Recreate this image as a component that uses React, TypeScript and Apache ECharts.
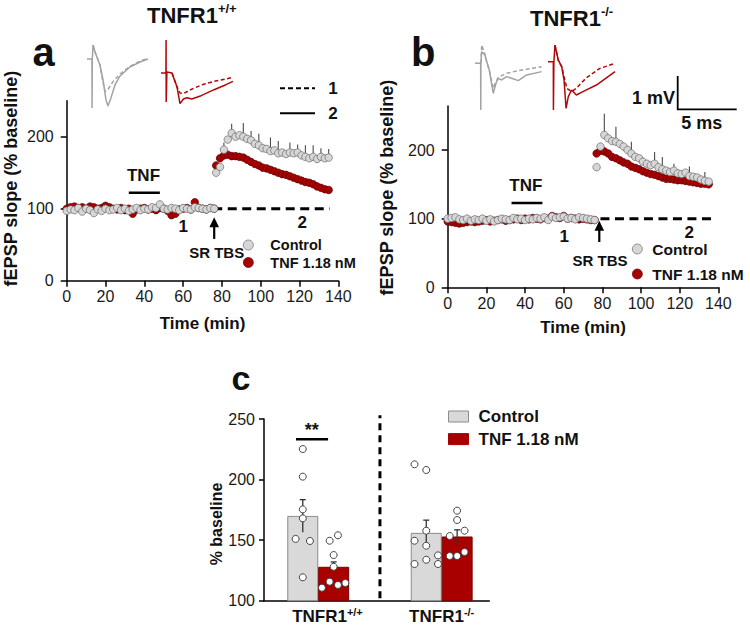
import React, { useEffect, useRef } from 'react';
import * as echarts from 'echarts';

const FONT = "'Liberation Sans', Arial, Helvetica, sans-serif";
const GRAY_FILL = '#d6d6d6';
const GRAY_EDGE = '#6a6a6a';
const RED_FILL = '#a80000';
const RED_EDGE = '#5a0000';
const TRACE_GRAY = '#a3a3a3';
const TRACE_RED = '#b00808';

// ---- time course (panels a, b) ----
const baseTimes = [0, 2, 4, 6, 8, 10, 12, 14, 16, 18, 20, 22, 24, 26, 28, 30, 32, 34, 36, 38, 40, 42, 44, 46, 48, 50, 52, 54, 56, 58, 60, 62, 64, 66, 68, 70, 72, 74, 76];
const postTimes = [77, 79, 81, 83, 85, 87, 89, 91, 93, 95, 97, 99, 101, 103, 105, 107, 109, 111, 113, 115, 117, 119, 121, 123, 125, 127, 129, 131, 133, 135];

const ctrlA_base = [97, 99, 98, 101, 96, 100, 98, 94, 99, 97, 100, 98, 99, 101, 98, 100, 97, 99, 101, 98, 100, 99, 102, 101, 106, 100, 99, 101, 100, 98, 101, 100, 99, 102, 101, 100, 99, 101, 100];
const tnfA_base = [100, 102, 103, 101, 102, 100, 103, 102, 100, 101, 104, 102, 100, 99, 101, 98, 100, 93, 99, 100, 101, 99, 100, 98, 101, 100, 97, 91, 93, 99, 100, 101, 99, 109, 101, 100, 99, 101, 100];
const ctrlA_post = [150, 158, 182, 196, 205, 200, 202, 200, 197, 195, 190, 188, 184, 183, 180, 181, 177, 178, 176, 178, 177, 178, 174, 172, 170, 172, 169, 172, 170, 171];
const tnfA_post = [160, 170, 174, 175, 173, 173, 172, 171, 168, 165, 162, 160, 157, 156, 154, 152, 150, 148, 147, 145, 143, 141, 139, 137, 136, 134, 131, 129, 127, 126];
const ctrlA_err = [0, 0, 10, 0, 13, 0, 0, 19, 0, 13, 0, 16, 0, 0, 19, 0, 17, 0, 0, 14, 0, 11, 0, 16, 0, 16, 0, 12, 0, 12];

const ctrlB_base = [100, 101, 102, 99, 98, 100, 97, 99, 98, 100, 97, 99, 96, 98, 100, 99, 98, 101, 99, 100, 98, 100, 99, 101, 100, 102, 98, 103, 101, 102, 103, 100, 101, 99, 102, 101, 100, 99, 98];
const tnfB_base = [96, 95, 94, 93, 94, 95, 96, 95, 96, 97, 98, 96, 97, 98, 99, 97, 98, 99, 100, 98, 100, 99, 101, 100, 99, 101, 100, 104, 102, 101, 104, 100, 101, 100, 99, 100, 99, 98, 98];
const ctrlB_post = [175, 205, 222, 217, 213, 212, 209, 205, 200, 195, 190, 188, 183, 180, 178, 180, 175, 172, 170, 168, 170, 166, 165, 167, 162, 161, 160, 157, 155, 154];
const tnfB_post = [195, 199, 198, 195, 190, 188, 185, 182, 180, 176, 174, 172, 169, 167, 165, 164, 162, 160, 158, 158, 157, 156, 156, 155, 154, 153, 152, 151, 151, 150];
const ctrlB_err = [0, 0, 31, 0, 0, 22, 0, 0, 0, 17, 0, 0, 0, 0, 0, 17, 0, 18, 0, 0, 10, 0, 0, 0, 14, 0, 0, 0, 13, 0];

const yTicksAB = [0, 100, 200];

// annotation positions in data units
const refLineA = [[75.5, 100], [135.5, 100]];
const refLineB = [[79, 100], [137, 100]];
const tnfBarA = [[32, 122], [48, 122]];
const tnfBarB = [[33, 123], [49, 123]];
// [x, tail value, tip value]
const arrowA = [[76, 58, 88]];
const arrowB = [[78.4, 66, 97]];

// ---- traces (ms, mV) ----
const grayA_solid = [[0, 0], [0.42, 0], [0.43, -1.47], [0.45, 0], [0.51, 0.42], [0.68, 0.21], [1.10, -0.18], [1.36, -0.63], [1.61, -1.23], [1.78, -1.41], [2.03, -1.17], [2.37, -0.78], [2.80, -0.51], [3.64, -0.24], [4.49, -0.09], [5.17, 0]];
const grayA_dash = [[0.51, 0.42], [0.68, 0.21], [1.10, -0.18], [1.30, -0.60], [1.53, -0.98], [1.80, -0.90], [2.20, -0.68], [2.80, -0.45], [3.64, -0.22], [4.49, -0.07], [5.17, 0.03]];
const redA_solid = [[0, 0], [0.42, 0], [0.43, 0.99], [0.44, -0.87], [0.50, 0.03], [0.93, 0], [1.36, -0.42], [1.61, -0.92], [1.90, -0.78], [2.20, -0.74], [2.60, -0.78], [3.40, -0.68], [4.50, -0.50], [5.50, -0.35], [6.10, -0.25]];
const redA_dash = [[0.93, 0], [1.36, -0.42], [1.61, -0.60], [1.90, -0.62], [2.50, -0.50], [3.50, -0.35], [4.50, -0.25], [5.50, -0.18], [6.10, -0.13]];
const grayB_solid = [[0, 0], [0.48, 0], [0.49, -1.40], [0.50, 0], [0.57, 0.35], [0.85, 0.25], [0.99, 0.05], [1.21, -0.20], [1.42, -0.65], [1.55, -0.90], [1.78, -0.60], [1.97, -0.45], [2.25, -0.50], [2.68, -0.40], [3.10, -0.45], [3.67, -0.52], [4.38, -0.35], [5.65, -0.25]];
const grayB_dash = [[0.50, 0], [0.57, 0.55], [0.85, 0.25], [0.99, 0.05], [1.21, -0.20], [1.42, -0.55], [1.55, -0.75], [1.78, -0.55], [1.97, -0.42], [2.68, -0.30], [3.67, -0.22], [4.38, -0.18], [5.65, -0.10]];
const redB_solid = [[0, 0], [0.45, 0], [0.46, -1.45], [0.50, 0], [0.59, 0.50], [0.87, 0.05], [1.16, -0.15], [1.36, -0.55], [1.53, -1.40], [1.72, -1.05], [2.00, -0.85], [2.40, -1.00], [2.96, -0.90], [4.10, -0.70], [5.68, -0.30]];
const redB_dash = [[0.59, 0.50], [0.87, 0.05], [1.16, -0.15], [1.36, -0.45], [1.60, -0.80], [2.00, -0.90], [2.40, -0.80], [3.20, -0.50], [4.40, -0.20], [5.68, -0.05]];

// ---- panel c ----
const groupsC = ['+/+', '-/-'];
const labelPosC = [1.15, 3];
const ctrlPosC = [0.75, 2.75];
const tnfPosC = [1.25, 3.25];
const ctrlMeanC = [170, 156];
const tnfMeanC = [128, 153];
const ctrlSemC = [13.4, 10.5];
const tnfSemC = [4, 5.5];
const dotCtrlWT_x = [0.75, 0.75, 0.75, 0.75, 0.634, 0.866, 0.75];
const dotCtrlWT_y = [225.2, 202.4, 175.4, 168, 151, 149.3, 119.3];
const dotTnfWT_x = [1.185, 1.32, 1.25, 1.25, 1.185, 1.06, 1.32, 1.44];
const dotTnfWT_y = [149.5, 154, 137.7, 128, 115.7, 110.7, 113, 114.6];
const dotCtrlKO_x = [2.56, 2.75, 2.75, 2.56, 2.75, 2.56, 2.75, 2.94, 2.94];
const dotCtrlKO_y = [212.6, 207.9, 157.8, 149.5, 145.4, 130.3, 133.8, 137.4, 130.3];
const dotTnfKO_x = [3.25, 3.25, 3.37, 3.13, 3.13, 3.25, 3.37];
const dotTnfKO_y = [174.3, 166.6, 157.8, 153.4, 136.9, 136.9, 140.2];
const sigLineC = [[0.64, 233.3], [1.16, 233.3]];
const dividerC = [[2, 102], [2, 253]];

const pts = (xs: number[], ys: number[]) => xs.map((x, i) => [x, ys[i]]);
const errPts = (xs: number[], ys: number[], es: number[]) =>
  xs.map((x, i) => [x, ys[i], es[i]]).filter((d) => d[2] > 0);

function txt(x: number, y: number, text: string, size: number, opts: any = {}) {
  const align = opts.align || 'center';
  return {
    type: 'text',
    x,
    y,
    rotation: opts.rot || 0,
    silent: true,
    style: {
      text,
      fontSize: size,
      fontWeight: opts.weight || 'bold',
      fontFamily: FONT,
      fill: opts.fill || '#111',
      align,
      verticalAlign: 'middle',
      textAlign: align,
      textVerticalAlign: 'middle',
      rich: opts.rich,
    },
  };
}

function supRich(main: number, sup: number, lhMain: number, lhSup: number) {
  return {
    m: { fontSize: main, fontWeight: 'bold', fontFamily: FONT, fill: '#111', color: '#111', lineHeight: lhMain },
    s: { fontSize: sup, fontWeight: 'bold', fontFamily: FONT, fill: '#111', color: '#111', lineHeight: lhSup, verticalAlign: 'top' },
  };
}

function buildOption(): any {
  const axisLine = { show: true, onZero: false, lineStyle: { color: '#000', width: 1.5 } };
  const tickStyle = { color: '#000', width: 1.5 };
  const labelAB = { fontSize: 16, color: '#1a1a1a', fontFamily: FONT };

  const timeX = (grid: number, gap: number) => ({
    type: 'value', gridIndex: grid, min: 0, max: 140, interval: 20,
    axisLine, axisTick: { show: true, length: 6, lineStyle: tickStyle },
    axisLabel: { ...labelAB, margin: 8 }, splitLine: { show: false },
    name: 'Time (min)', nameLocation: 'middle', nameGap: gap,
    nameTextStyle: { fontSize: 17, fontWeight: 'bold', fontFamily: FONT, color: '#111' },
  });
  const slopeY = (grid: number, max: number) => ({
    type: 'value', gridIndex: grid, min: 0, max,
    axisLine, axisTick: { show: true, length: 6, lineStyle: tickStyle, customValues: yTicksAB },
    axisLabel: { ...labelAB, margin: 13, customValues: yTicksAB }, splitLine: { show: false },
  });
  const hiddenAxis = (grid: number, min: number, max: number) => ({
    type: 'value', gridIndex: grid, min, max, show: false, splitLine: { show: false },
  });

  const errRender = (params: any, api: any) => {
    const x = api.value(0), y = api.value(1), e = api.value(2);
    const p0 = api.coord([x, y]);
    const p1 = api.coord([x, y + e]);
    return { type: 'line', shape: { x1: p0[0], y1: p0[1], x2: p1[0], y2: p1[1] }, style: { stroke: '#4a4a4a', lineWidth: 1.1 } };
  };
  const errRenderC = (params: any, api: any) => {
    const x = api.value(0), y = api.value(1), e = api.value(2);
    const lo = api.coord([x, y - e]);
    const hi = api.coord([x, y + e]);
    return {
      type: 'group',
      children: [
        { type: 'line', shape: { x1: lo[0], y1: lo[1], x2: hi[0], y2: hi[1] }, style: { stroke: '#333', lineWidth: 1.3 } },
        { type: 'line', shape: { x1: hi[0] - 3, y1: hi[1], x2: hi[0] + 3, y2: hi[1] }, style: { stroke: '#333', lineWidth: 1.3 } },
      ],
    };
  };
  const arrowRender = (params: any, api: any) => {
    const x = api.value(0), y0 = api.value(1), y1 = api.value(2);
    const a = api.coord([x, y0]);
    const b = api.coord([x, y1]);
    return {
      type: 'group',
      children: [
        { type: 'line', shape: { x1: a[0], y1: a[1], x2: b[0], y2: b[1] + 8 }, style: { stroke: '#000', lineWidth: 2.2 } },
        { type: 'polygon', shape: { points: [[b[0], b[1]], [b[0] - 4.8, b[1] + 10], [b[0] + 4.8, b[1] + 10]] }, style: { fill: '#000' } },
      ],
    };
  };

  const scatterTC = (name: string, xi: number, data: any[], red: boolean, z: number) => ({
    type: 'scatter', name, xAxisIndex: xi, yAxisIndex: xi, data, symbolSize: 7.5, z,
    itemStyle: red
      ? { color: RED_FILL, borderColor: RED_EDGE, borderWidth: 0.7, opacity: 1 }
      : { color: GRAY_FILL, borderColor: GRAY_EDGE, borderWidth: 0.7, opacity: 1 },
    silent: true,
  });
  const plainLine = (xi: number, data: any[], style: any, extra: any = {}) => ({
    type: 'line', xAxisIndex: xi, yAxisIndex: xi, data, symbol: 'none', silent: true,
    lineStyle: style, z: 1, ...extra,
  });
  const arrowSeries = (xi: number, data: any[]) => ({
    type: 'custom', name: 'arrow', xAxisIndex: xi, yAxisIndex: xi, renderItem: arrowRender, data, z: 1, silent: true, clip: false,
  });
  const trace = (xi: number, data: any[], color: string, dashed: boolean) => ({
    type: 'line', xAxisIndex: xi, yAxisIndex: xi, data, symbol: 'none', silent: true,
    lineStyle: { color, width: 1.5, type: dashed ? [4, 2.5] : 'solid' },
  });

  const dotsC = [
    ...pts(dotCtrlWT_x, dotCtrlWT_y), ...pts(dotTnfWT_x, dotTnfWT_y),
    ...pts(dotCtrlKO_x, dotCtrlKO_y), ...pts(dotTnfKO_x, dotTnfKO_y),
  ];

  const legendText = (size: number, lh: number) => ({ fontSize: size, fontWeight: 'bold', fontFamily: FONT, color: '#111', lineHeight: lh });

  return {
    animation: false,
    backgroundColor: '#fff',
    grid: [
      { left: 66.7, top: 100.7, width: 271.7, height: 180 },
      { left: 447.7, top: 106.1, width: 270.7, height: 181.2 },
      { left: 264, top: 419, width: 225.3, height: 181.7 },
      { left: 87, top: 39, width: 70.8, height: 73.3 },
      { left: 161, top: 36.4, width: 76.7, height: 76.6 },
      { left: 475, top: 40, width: 70.8, height: 76.6 },
      { left: 548, top: 38.4, width: 70.8, height: 76.6 },
    ],
    xAxis: [
      timeX(0, 34),
      timeX(1, 32),
      {
        type: 'value', gridIndex: 2, min: 0.122, max: 3.771,
        axisLine, axisTick: { show: false }, splitLine: { show: false },
        axisLabel: {
          customValues: labelPosC, margin: 6,
          formatter: (v: number) => {
            let best = 0;
            labelPosC.forEach((p, i) => { if (Math.abs(p - v) < Math.abs(labelPosC[best] - v)) best = i; });
            return '{m|TNFR1}{s|' + groupsC[best] + '}';
          },
          rich: supRich(17, 11, 20, 8),
        },
      },
      hiddenAxis(3, 0, 6), hiddenAxis(4, 0, 6.5), hiddenAxis(5, 0, 6), hiddenAxis(6, 0, 6),
    ],
    yAxis: [
      slopeY(0, 250),
      slopeY(1, 264),
      {
        type: 'value', gridIndex: 2, min: 100, max: 250, interval: 50,
        axisLine, axisTick: { show: true, length: 5, lineStyle: tickStyle },
        axisLabel: { fontSize: 16, color: '#1a1a1a', fontFamily: FONT, margin: 9 }, splitLine: { show: false },
      },
      hiddenAxis(3, -1.6, 0.6), hiddenAxis(4, -1.2, 1.1), hiddenAxis(5, -1.6, 0.7), hiddenAxis(6, -1.6, 0.7),
    ],
    legend: [
      {
        orient: 'vertical', left: 238, top: 232, itemWidth: 34, itemHeight: 10, itemGap: 1.5,
        selectedMode: false,
        data: [
          { name: 'Control', icon: 'circle', itemStyle: { color: GRAY_FILL, borderColor: GRAY_EDGE, borderWidth: 0.7, opacity: 1 } },
          { name: 'TNF 1.18 nM', icon: 'circle', itemStyle: { color: RED_FILL, borderColor: RED_EDGE, borderWidth: 0.7, opacity: 1 } },
        ],
        textStyle: legendText(14.5, 16),
      },
      {
        orient: 'vertical', left: 627, top: 236, itemWidth: 20, itemHeight: 10, itemGap: 9,
        selectedMode: false,
        data: [
          { name: 'Control', icon: 'circle', itemStyle: { color: GRAY_FILL, borderColor: GRAY_EDGE, borderWidth: 0.7, opacity: 1 } },
          { name: 'TNF 1.18 nM', icon: 'circle', itemStyle: { color: RED_FILL, borderColor: RED_EDGE, borderWidth: 0.7, opacity: 1 } },
        ],
        textStyle: legendText(15.5, 16),
      },
      {
        orient: 'vertical', left: 443, top: 402.5, itemWidth: 20, itemHeight: 11, itemGap: 4.6,
        selectedMode: false,
        data: [
          { name: 'Control', icon: 'rect', itemStyle: { color: '#d9d9d9', borderColor: '#8c8c8c', borderWidth: 1, opacity: 1 } },
          { name: 'TNF 1.18 nM', icon: 'rect', itemStyle: { color: RED_FILL, borderColor: RED_FILL, borderWidth: 1, opacity: 1 } },
        ],
        textStyle: { ...legendText(17, 18), padding: [0, 0, 0, 5] },
      },
    ],
    series: [
      // panel a
      scatterTC('TNF 1.18 nM', 0, [...pts(baseTimes, tnfA_base), ...pts(postTimes, tnfA_post)], true, 3),
      { type: 'custom', name: 'errA', xAxisIndex: 0, yAxisIndex: 0, renderItem: errRender, data: errPts(postTimes, ctrlA_post, ctrlA_err), z: 2, silent: true },
      scatterTC('Control', 0, [...pts(baseTimes, ctrlA_base), ...pts(postTimes, ctrlA_post)], false, 4),
      plainLine(0, refLineA, { color: '#000', width: 3, type: [9, 5.5] }),
      plainLine(0, tnfBarA, { color: '#000', width: 2.5 }),
      arrowSeries(0, arrowA),
      // panel b
      scatterTC('TNF 1.18 nM', 1, [...pts(baseTimes, tnfB_base), ...pts(postTimes, tnfB_post)], true, 3),
      { type: 'custom', name: 'errB', xAxisIndex: 1, yAxisIndex: 1, renderItem: errRender, data: errPts(postTimes, ctrlB_post, ctrlB_err), z: 2, silent: true },
      scatterTC('Control', 1, [...pts(baseTimes, ctrlB_base), ...pts(postTimes, ctrlB_post)], false, 4),
      plainLine(1, refLineB, { color: '#000', width: 3, type: [9, 5.5] }),
      plainLine(1, tnfBarB, { color: '#000', width: 2.5 }),
      arrowSeries(1, arrowB),
      // panel c
      {
        type: 'bar', name: 'Control', xAxisIndex: 2, yAxisIndex: 2, data: pts(ctrlPosC, ctrlMeanC),
        barWidth: 31, barGap: '-100%', itemStyle: { color: '#d9d9d9', borderColor: '#8c8c8c', borderWidth: 1 }, z: 2, silent: true,
      },
      {
        type: 'bar', name: 'TNF 1.18 nM', xAxisIndex: 2, yAxisIndex: 2, data: pts(tnfPosC, tnfMeanC),
        barWidth: 31, barGap: '-100%', itemStyle: { color: RED_FILL, borderColor: '#7a0000', borderWidth: 1 }, z: 2, silent: true,
      },
      {
        type: 'custom', name: 'errC', xAxisIndex: 2, yAxisIndex: 2, renderItem: errRenderC, z: 3, silent: true,
        data: [...ctrlPosC.map((x, i) => [x, ctrlMeanC[i], ctrlSemC[i]]), ...tnfPosC.map((x, i) => [x, tnfMeanC[i], tnfSemC[i]])],
      },
      {
        type: 'scatter', name: 'dotsC', xAxisIndex: 2, yAxisIndex: 2, data: dotsC, symbolSize: 7, z: 5, silent: true,
        itemStyle: { color: '#fff', borderColor: '#444', borderWidth: 1, opacity: 1 },
      },
      plainLine(2, sigLineC, { color: '#000', width: 2.5 }, { clip: false }),
      plainLine(2, dividerC, { color: '#000', width: 3, type: [7, 5] }, { clip: false }),
      // traces
      trace(3, grayA_dash, TRACE_GRAY, true), trace(3, grayA_solid, TRACE_GRAY, false),
      trace(4, redA_dash, TRACE_RED, true), trace(4, redA_solid, TRACE_RED, false),
      trace(5, grayB_dash, TRACE_GRAY, true), trace(5, grayB_solid, TRACE_GRAY, false),
      trace(6, redB_dash, TRACE_RED, true), trace(6, redB_solid, TRACE_RED, false),
    ],
    graphic: [
      txt(147, 15, '{m|TNFR1}{s|+/+}', 22, { align: 'left', rich: supRich(22, 13, 26, 14) }),
      txt(530, 18, '{m|TNFR1}{s|-/-}', 22, { align: 'left', rich: supRich(22, 13, 26, 14) }),
      txt(32.5, 52, 'a', 40, { align: 'left' }),
      txt(411, 52, 'b', 40, { align: 'left' }),
      txt(231.5, 378, 'c', 34, { align: 'left' }),
      txt(11, 178.5, 'fEPSP slope (% baseline)', 18, { rot: Math.PI / 2 }),
      txt(386.7, 187.5, 'fEPSP slope (% baseline)', 18, { rot: Math.PI / 2 }),
      txt(216.5, 524, '% baseline', 16, { rot: Math.PI / 2 }),
      txt(143.5, 175, 'TNF', 17),
      txt(525.8, 185, 'TNF', 17),
      txt(183.3, 226.7, '1', 17),
      txt(302.3, 222.3, '2', 17),
      txt(564.3, 236.7, '1', 17),
      txt(689.3, 232.7, '2', 17),
      txt(216.7, 252.7, 'SR TBS', 15),
      txt(600, 260, 'SR TBS', 15),
      { type: 'line', silent: true, shape: { x1: 280, y1: 88.3, x2: 315, y2: 88.3 }, style: { stroke: '#000', lineWidth: 2, lineDash: [5, 3] } },
      { type: 'line', silent: true, shape: { x1: 280, y1: 113.3, x2: 315, y2: 113.3 }, style: { stroke: '#000', lineWidth: 2 } },
      txt(333, 88.3, '1', 17),
      txt(333, 113.3, '2', 17),
      { type: 'polyline', silent: true, shape: { points: [[677.7, 76], [677.7, 109.3], [736.7, 109.3]] }, style: { stroke: '#000', lineWidth: 1.8, fill: 'none' } },
      txt(675, 98, '1 mV', 18, { align: 'right' }),
      txt(701.7, 123.3, '5 ms', 18),
      txt(311.7, 430, '**', 18),
    ],
  };
}

export default function App() {
  const ref = useRef<HTMLDivElement>(null);
  useEffect(() => {
    document.body.style.margin = '0';
    const chart = echarts.init(ref.current!, null, { renderer: 'svg' });
    chart.setOption(buildOption());
    return () => chart.dispose();
  }, []);
  return <div ref={ref} style={{ width: 750, height: 627 }} />;
}
